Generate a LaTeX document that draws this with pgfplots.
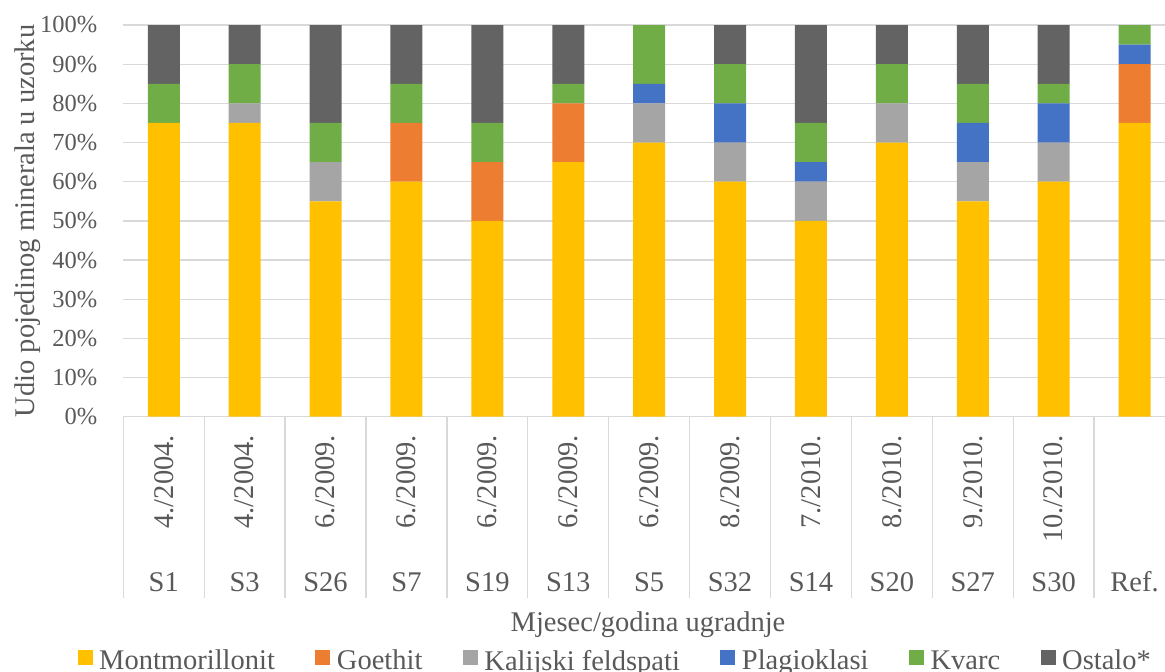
\documentclass[border=0pt]{standalone}
\usepackage{fontspec}
\setmainfont{Liberation Serif}
\usepackage{pgfplots}
\pgfplotsset{compat=1.18}

\definecolor{cmont}{HTML}{FFC000}
\definecolor{cgoe}{HTML}{ED7D31}
\definecolor{ckal}{HTML}{A5A5A5}
\definecolor{cplag}{HTML}{4472C4}
\definecolor{ckv}{HTML}{70AD47}
\definecolor{cost}{HTML}{636363}
\definecolor{gridgray}{HTML}{D9D9D9}
\definecolor{txt}{HTML}{595959}

% columns: position, Montmorillonit, Goethit, Kalijski feldspati, Plagioklasi, Kvarc, Ostalo*
\pgfplotstableread{
x  mont goe kal plag kv ost
0  75   0   0   0    10 15
1  75   0   5   0    10 10
2  55   0   10  0    10 25
3  60   15  0   0    10 15
4  50   15  0   0    10 25
5  65   15  0   0    5  15
6  70   0   10  5    15 0
7  60   0   10  10   10 10
8  50   0   10  5    10 25
9  70   0   10  0    10 10
10 55   0   10  10   10 15
11 60   0   10  10   5  15
12 75   15  0   5    5  0
}\datatab

\newcommand\lblfont{\fontsize{14.25}{17}\selectfont}

\begin{document}
\begin{tikzpicture}
\useasboundingbox (-61.65pt,-127.15pt) rectangle (520.85pt,208.35pt);
\begin{axis}[
    at={(0,0)}, anchor=south west,
    scale only axis,
    width=520.85pt, height=195.85pt,
    xmin=-0.5, xmax=12.376,
    ymin=0, ymax=100,
    ybar stacked, bar width=16pt,
    xtick=\empty,
    ytick={0,10,...,100},
    yticklabel={\pgfmathprintnumber{\tick}\%},
    major tick length=0pt,
    ymajorgrids,
    grid style={gridgray, line width=0.65pt},
    separate axis lines,
    x axis line style={gridgray, line width=0.65pt},
    y axis line style={draw=none},
    tick label style={font=\fontsize{12.25}{14}\selectfont, text=txt},
    yticklabel style={inner sep=0pt, xshift=-12.8pt},
    /pgf/number format/assume math mode=true,
    clip=false,
    legend columns=6,
    legend style={
        at={(0.4713,-0.625)}, anchor=center,
        draw=none, fill=none, inner sep=0pt,
        font=\lblfont, text=txt,
        nodes={inner sep=0pt},
        /tikz/every odd column/.append style={column sep=3.3pt},
        /tikz/every even column/.append style={column sep=20.2pt},
    },
    legend image code/.code={\fill[#1] (0pt,-1.9pt) rectangle (7.5pt,5.6pt);},
]
\addplot[fill=cmont, draw=none] table[x=x, y=mont] {\datatab};
\addplot[fill=cgoe, draw=none] table[x=x, y=goe] {\datatab};
\addplot[fill=ckal, draw=none] table[x=x, y=kal] {\datatab};
\addplot[fill=cplag, draw=none] table[x=x, y=plag] {\datatab};
\addplot[fill=ckv, draw=none] table[x=x, y=kv] {\datatab};
\addplot[fill=cost, draw=none] table[x=x, y=ost] {\datatab};
\legend{Montmorillonit, Goethit, Kalijski feldspati, Plagioklasi, Kvarc, Ostalo*}
\end{axis}

% two-level category labels below the axis
\foreach \i/\d/\s in {0/{4./2004.}/S1, 1/{4./2004.}/S3, 2/{6./2009.}/S26,
    3/{6./2009.}/S7, 4/{6./2009.}/S19, 5/{6./2009.}/S13, 6/{6./2009.}/S5,
    7/{8./2009.}/S32, 8/{7./2010.}/S14, 9/{8./2010.}/S20, 10/{9./2010.}/S27,
    11/{10./2010.}/S30, 12/{}/Ref.} {
  \pgfmathsetmacro\xc{(\i+0.5)*40.45}
  \pgfmathsetmacro\xs{\i*40.45}
  \draw[gridgray, line width=0.65pt] (\xs pt,0) -- (\xs pt,-90.65pt);
  \node[rotate=90, anchor=east, inner sep=0pt, text=txt, font=\lblfont] at (\xc pt,-9pt) {\d};
  \node[anchor=base, inner sep=0pt, text=txt, font=\lblfont] at (\xc pt,-87.5pt) {\s};
}

\node[anchor=base, inner sep=0pt, text=txt, font=\lblfont] at (262.35pt,-107.15pt) {Mjesec/godina ugradnje};
\node[rotate=90, anchor=base, inner sep=0pt, text=txt, font=\lblfont] at (-44.15pt,97.9pt) {Udio pojedinog minerala u uzorku};
\end{tikzpicture}
\end{document}
